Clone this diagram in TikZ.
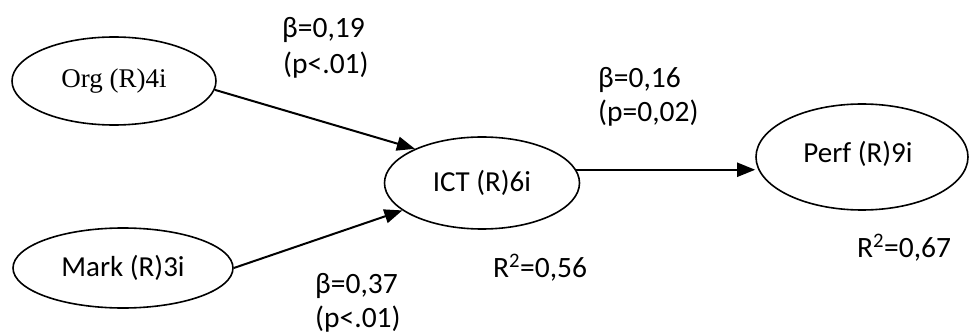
\documentclass[tikz,border=0pt]{standalone}
\usepackage{fontspec}
\setmainfont{Carlito}
\newfontfamily\serifx{Liberation Serif}
\usetikzlibrary{shapes.geometric,arrows.meta}
\begin{document}
\begin{tikzpicture}[x=1pt,y=-1pt,
  ell/.style={draw,ellipse,line width=1.6pt,inner sep=0pt,font=\fontsize{29}{34}\selectfont},
  lbl/.style={anchor=base west,inner sep=0pt,font=\fontsize{29.5}{34}\selectfont},
  arr/.style={line width=2pt,-{Triangle[length=18pt,width=14pt]}}]
\useasboundingbox (0,0) rectangle (970,334);
\node[ell,minimum width=204pt,minimum height=88pt] (org) at (114,81) {\raisebox{3pt}{\fontsize{27}{32}\selectfont\serifx Org (R)4i}};
\node[ell,minimum width=220pt,minimum height=80pt] (mark) at (123,268) {Mark (R)3i};
\node[ell,minimum width=195pt,minimum height=92pt] (ict) at (482,183) {\raisebox{3pt}{ICT (R)6i}};
\node[ell,minimum width=212pt,minimum height=106pt] (perf) at (862,157) {\raisebox{11pt}{Perf (R)9i}\hspace*{8pt}};
\draw[arr] (org.-5) -- (ict.153);
\draw[arr] (mark.east) -- (ict.-161);
\draw[arr] (ict.8) -- (ict.8 -| perf.west);
\node[lbl] (b19) at (282,38) {β=0,19};
\node[lbl] (p19) at (283,74) {(p<.01)};
\node[lbl] (b16) at (598,88) {β=0,16};
\node[lbl] (p16) at (598,122) {(p=0,02)};
\node[lbl] (b37) at (315,293) {β=0,37};
\node[lbl] (p37) at (315,327) {(p<.01)};
\node[lbl] (r56) at (493,277) {R\textsuperscript{2}=0,56};
\node[lbl] (r67) at (857,257) {R\textsuperscript{2}=0,67};
\end{tikzpicture}
\end{document}
